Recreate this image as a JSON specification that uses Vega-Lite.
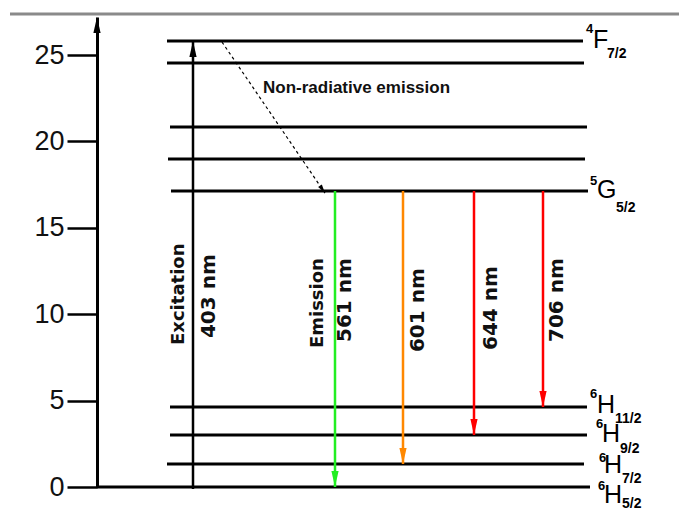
{
  "$schema": "https://vega.github.io/schema/vega-lite/v6.json",
  "width": 582,
  "height": 470,
  "autosize": "none",
  "padding": {"left": 97, "top": 17, "right": 0, "bottom": 26},
  "background": "white",
  "config": {"view": {"stroke": null}},
  "datasets": {
    "frame": [{"x": -87, "x2": 582, "y": 27.37}],
    "levels": [
      {"term": "4F7/2 a", "x": 70, "x2": 486, "y": 25.81},
      {"term": "4F7/2 b", "x": 70, "x2": 487, "y": 24.54},
      {"term": "c", "x": 73, "x2": 490, "y": 20.83},
      {"term": "d", "x": 71, "x2": 488, "y": 18.98},
      {"term": "5G5/2", "x": 74, "x2": 491, "y": 17.13},
      {"term": "6H11/2", "x": 73, "x2": 490, "y": 4.63},
      {"term": "6H9/2", "x": 73, "x2": 490, "y": 3.01},
      {"term": "6H7/2", "x": 70, "x2": 487, "y": 1.33},
      {"term": "6H5/2", "x": 0, "x2": 493, "y": 0}
    ],
    "transitions": [
      {"transition": "403 nm excitation", "x": 96, "y": -0.12, "y2": 25.81},
      {"transition": "561 nm", "x": 238, "y": 17.13, "y2": 0},
      {"transition": "601 nm", "x": 306, "y": 17.13, "y2": 1.33},
      {"transition": "644 nm", "x": 377, "y": 17.13, "y2": 3.01},
      {"transition": "706 nm", "x": 446, "y": 17.13, "y2": 4.63}
    ],
    "upheads": [
      {"what": "excitation", "x": 96, "y": 25.81},
      {"what": "axis", "x": 0, "y": 27.2}
    ],
    "nonrad": [{"x": 125, "y": 25.75, "x2": 228, "y2": 17.01}],
    "names": [
      {"label": "Excitation", "x": 82, "y": 8.22},
      {"label": "Emission", "x": 221, "y": 8.04}
    ],
    "wavelengths": [
      {"label": "403 nm", "x": 112, "y": 8.62},
      {"label": "561 nm", "x": 248, "y": 8.39},
      {"label": "601 nm", "x": 321, "y": 7.81},
      {"label": "644 nm", "x": 394, "y": 7.93},
      {"label": "706 nm", "x": 460, "y": 8.39}
    ],
    "nrtext": [{"label": "Non-radiative emission", "x": 166, "y": 22.8}],
    "termMain": [
      {"label": "F", "x": 496, "y": 25.41},
      {"label": "G", "x": 500, "y": 16.72},
      {"label": "H", "x": 500, "y": 4.28},
      {"label": "H", "x": 505, "y": 2.6},
      {"label": "H", "x": 507, "y": 0.81},
      {"label": "H", "x": 507, "y": -0.93}
    ],
    "termSup": [
      {"label": "4", "x": 489, "y": 26.27},
      {"label": "5", "x": 493, "y": 17.48},
      {"label": "6", "x": 493, "y": 5.15},
      {"label": "6", "x": 499, "y": 3.41},
      {"label": "6", "x": 502, "y": 1.45},
      {"label": "6", "x": 501, "y": -0.17}
    ],
    "termSub": [
      {"label": "7/2", "x": 510, "y": 24.83},
      {"label": "5/2", "x": 519, "y": 15.91},
      {"label": "11/2", "x": 518, "y": 3.7},
      {"label": "9/2", "x": 523, "y": 1.97},
      {"label": "7/2", "x": 525, "y": 0.23},
      {"label": "5/2", "x": 525, "y": -1.2}
    ]
  },
  "encoding": {
    "x": {"field": "x", "type": "quantitative", "scale": {"domain": [0, 582], "nice": false, "zero": false}, "axis": null},
    "y": {
      "field": "y", "type": "quantitative",
      "scale": {"domain": [0, 27.2], "nice": false, "zero": false},
      "axis": {
        "title": null, "values": [0, 5, 10, 15, 20, 25], "grid": false,
        "domainColor": "#000000", "domainWidth": 3,
        "tickColor": "#000000", "tickWidth": 2.5, "tickSize": 30,
        "labelFont": "Liberation Sans", "labelFontSize": 27, "labelColor": "#111111",
        "labelPadding": 3, "labelBaseline": "middle", "labelFlush": false, "labelOverlap": false
      }
    }
  },
  "layer": [
    {
      "data": {"name": "frame"},
      "mark": {"type": "rule", "color": "#8a8a8a", "strokeWidth": 3},
      "encoding": {"x2": {"field": "x2"}}
    },
    {
      "data": {"name": "levels"},
      "mark": {"type": "rule", "color": "#000000", "strokeWidth": 3},
      "encoding": {"x2": {"field": "x2"}}
    },
    {
      "data": {"name": "transitions"},
      "mark": {"type": "rule", "strokeWidth": 2.5},
      "encoding": {
        "y2": {"field": "y2"},
        "color": {"field": "transition", "type": "nominal", "legend": null,
          "scale": {"domain": ["403 nm excitation", "561 nm", "601 nm", "644 nm", "706 nm"],
                    "range": ["#000000", "#22ee22", "#ff8800", "#ff0000", "#ff0000"]}}
      }
    },
    {
      "data": {"name": "transitions"},
      "transform": [{"filter": "datum.transition != '403 nm excitation'"}],
      "mark": {"type": "point", "shape": "M0,0L-0.9,-4L0.9,-4Z", "filled": true, "size": 64, "opacity": 1},
      "encoding": {
        "y": {"field": "y2", "type": "quantitative"},
        "color": {"field": "transition", "type": "nominal", "legend": null}
      }
    },
    {
      "data": {"name": "upheads"},
      "mark": {"type": "point", "shape": "M0,0L-0.9,4L0.9,4Z", "filled": true, "size": 64, "opacity": 1, "color": "#000000"},
      "encoding": {}
    },
    {
      "data": {"name": "nonrad"},
      "mark": {"type": "rule", "color": "#000000", "strokeWidth": 1.2, "strokeDash": [3, 3]},
      "encoding": {"x2": {"field": "x2"}, "y2": {"field": "y2"}}
    },
    {
      "data": {"name": "nonrad"},
      "mark": {"type": "point", "shape": "M0,0L-1,-4L1,-4Z", "filled": true, "size": 20, "opacity": 1, "color": "#000000", "angle": 326},
      "encoding": {"x": {"field": "x2", "type": "quantitative"}, "y": {"field": "y2", "type": "quantitative"}}
    },
    {
      "data": {"name": "names"},
      "mark": {"type": "text", "angle": 270, "align": "left", "baseline": "middle", "font": "DejaVu Sans", "fontWeight": "bold", "fontSize": 18, "color": "#111111"},
      "encoding": {"text": {"field": "label"}}
    },
    {
      "data": {"name": "wavelengths"},
      "mark": {"type": "text", "angle": 270, "align": "left", "baseline": "middle", "font": "DejaVu Sans", "fontWeight": "bold", "fontSize": 20, "color": "#111111"},
      "encoding": {"text": {"field": "label"}}
    },
    {
      "data": {"name": "nrtext"},
      "mark": {"type": "text", "align": "left", "baseline": "alphabetic", "font": "Liberation Sans", "fontWeight": "bold", "fontSize": 17, "color": "#111111"},
      "encoding": {"text": {"field": "label"}}
    },
    {
      "data": {"name": "termMain"},
      "mark": {"type": "text", "align": "left", "baseline": "alphabetic", "font": "Liberation Sans", "fontSize": 25, "color": "#000000"},
      "encoding": {"text": {"field": "label"}}
    },
    {
      "data": {"name": "termSup"},
      "mark": {"type": "text", "align": "left", "baseline": "alphabetic", "font": "Liberation Sans", "fontWeight": "bold", "fontSize": 13, "color": "#000000"},
      "encoding": {"text": {"field": "label"}}
    },
    {
      "data": {"name": "termSub"},
      "mark": {"type": "text", "align": "left", "baseline": "alphabetic", "font": "Liberation Sans", "fontWeight": "bold", "fontSize": 14, "color": "#000000"},
      "encoding": {"text": {"field": "label"}}
    }
  ]
}
